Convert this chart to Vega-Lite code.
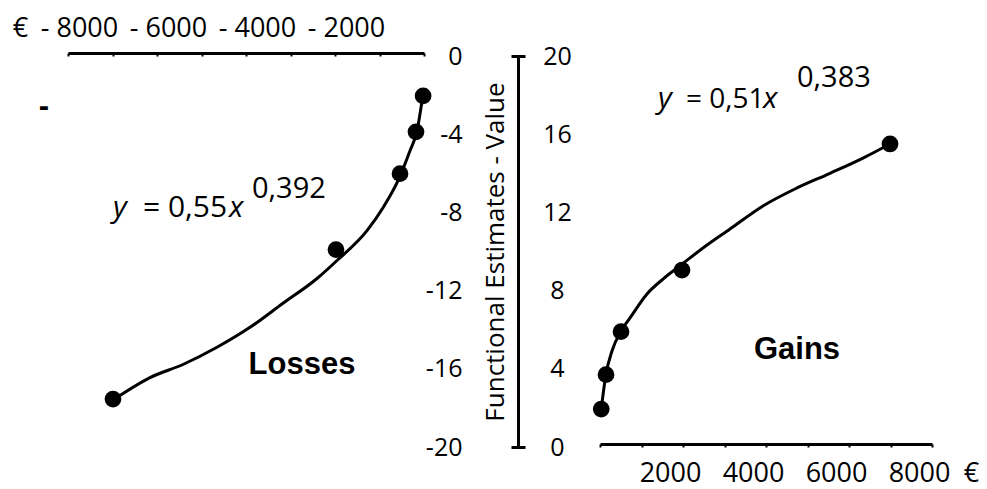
{
  "$schema": "https://vega.github.io/schema/vega-lite/v6.json",
  "background": "white",
  "padding": {"left": 12, "top": 14, "right": 5, "bottom": 5},
  "bounds": "flush",
  "spacing": 176,
  "config": {
    "view": {"stroke": null},
    "axis": {"grid": false, "labelFont": "Open Sans", "titleFont": "Open Sans", "labelColor": "#000", "titleColor": "#000", "domainColor": "#000", "tickColor": "#000", "labelFontWeight": "normal", "titleFontWeight": "normal", "domainWidth": 3, "labelOverlap": false, "labelFlush": false, "labelBound": false},
    "text": {"font": "Open Sans", "color": "#000"}
  },
  "datasets": {
    "lossCurve": [
      {"x": -6989, "y": -17.6}, {"x": -6157, "y": -16.45}, {"x": -5416, "y": -15.78}, {"x": -4652, "y": -14.9},
      {"x": -3910, "y": -13.88}, {"x": -3169, "y": -12.65}, {"x": -2404, "y": -11.38}, {"x": -1955, "y": -10.46},
      {"x": -1281, "y": -8.93}, {"x": -921, "y": -7.76}, {"x": -584, "y": -6.38}, {"x": -315, "y": -4.85},
      {"x": -157, "y": -3.83}, {"x": -45, "y": -2.3}, {"x": -22, "y": -1.94}
    ],
    "lossPts": [
      {"x": -6989, "y": -17.55}, {"x": -1978, "y": -9.9}, {"x": -539, "y": -6.02}, {"x": -180, "y": -3.88}, {"x": -20, "y": -2.04}
    ],
    "gainCurve": [
      {"x": 30, "y": 1.94}, {"x": 145, "y": 3.73}, {"x": 289, "y": 4.91}, {"x": 506, "y": 5.93}, {"x": 723, "y": 6.6},
      {"x": 1133, "y": 7.83}, {"x": 1518, "y": 8.59}, {"x": 1976, "y": 9.35}, {"x": 2482, "y": 10.18}, {"x": 3133, "y": 11.15},
      {"x": 3928, "y": 12.33}, {"x": 4747, "y": 13.25}, {"x": 5542, "y": 14.0}, {"x": 6337, "y": 14.78}, {"x": 6988, "y": 15.5}
    ],
    "gainPts": [
      {"x": 30, "y": 1.94}, {"x": 145, "y": 3.7}, {"x": 506, "y": 5.9}, {"x": 1976, "y": 9.05}, {"x": 6988, "y": 15.5}
    ],
    "lossItalic": [{"x": -6989, "y": -8.21, "t": "y"}, {"x": -4382, "y": -8.21, "t": "x"}],
    "lossMain": [{"x": -6315, "y": -8.21, "t": "= 0,55"}],
    "lossSup": [{"x": -3865, "y": -7.24, "t": "0,392"}],
    "lossLabel": [{"x": -2742, "y": -15.82, "t": "Losses"}, {"x": -8539, "y": -2.6, "t": "-"}],
    "gainItalic": [{"x": 1398, "y": 17.34, "t": "y"}, {"x": 3928, "y": 17.34, "t": "x"}],
    "gainMain": [{"x": 2072, "y": 17.34, "t": "= 0,51"}],
    "gainSup": [{"x": 4747, "y": 18.41, "t": "0,383"}],
    "gainLabel": [{"x": 4747, "y": 4.94, "t": "Gains"}]
  },
  "hconcat": [
    {
      "width": 356,
      "height": 391,
      "layer": [
        {
          "data": {"name": "lossCurve"},
          "mark": {"type": "line", "color": "#000", "strokeWidth": 3, "interpolate": "monotone"},
          "encoding": {
            "x": {"field": "x", "type": "quantitative", "scale": {"domain": [-8000, 0], "nice": false, "zero": false},
              "axis": {"orient": "top", "values": [-8000, -7000, -6000, -5000, -4000, -3000, -2000, -1000, 0],
                "labelExpr": "datum.value % 2000 == 0 && datum.value != 0 ? '- ' + abs(datum.value) : ''",
                "tickSize": -3, "tickWidth": 2, "labelPadding": 20, "labelBaseline": "alphabetic", "labelOffset": 11, "labelFontSize": 27,
                "offset": 3, "title": "€", "titleX": -48, "titleY": -17, "titleBaseline": "alphabetic", "titleAlign": "center", "titleAngle": 0, "titleFontSize": 27}},
            "y": {"field": "y", "type": "quantitative", "scale": {"domain": [-20, 0], "nice": false},
              "axis": {"orient": "right", "values": [0, -4, -8, -12, -16, -20],
                "labelExpr": "datum.value == 0 ? '0' : '-' + abs(datum.value)",
                "ticks": false, "domain": false, "labelAlign": "right", "labelPadding": 38, "labelBaseline": "middle", "labelFontSize": 25, "title": null}}
          }
        },
        {
          "data": {"name": "lossPts"},
          "mark": {"type": "point", "filled": true, "color": "#000", "size": 280, "opacity": 1},
          "encoding": {
            "x": {"field": "x", "type": "quantitative"},
            "y": {"field": "y", "type": "quantitative"}
          }
        },
        {
          "data": {"name": "lossItalic"},
          "mark": {"type": "text", "align": "left", "baseline": "alphabetic", "fontSize": 30, "fontStyle": "italic"},
          "encoding": {
            "x": {"field": "x", "type": "quantitative"},
            "y": {"field": "y", "type": "quantitative"},
            "text": {"field": "t"}
          }
        },
        {
          "data": {"name": "lossMain"},
          "mark": {"type": "text", "align": "left", "baseline": "alphabetic", "fontSize": 30},
          "encoding": {
            "x": {"field": "x", "type": "quantitative"},
            "y": {"field": "y", "type": "quantitative"},
            "text": {"field": "t"}
          }
        },
        {
          "data": {"name": "lossSup"},
          "mark": {"type": "text", "align": "left", "baseline": "alphabetic", "fontSize": 29},
          "encoding": {
            "x": {"field": "x", "type": "quantitative"},
            "y": {"field": "y", "type": "quantitative"},
            "text": {"field": "t"}
          }
        },
        {
          "data": {"name": "lossLabel"},
          "mark": {"type": "text", "align": "center", "baseline": "middle", "fontSize": 31, "font": "Liberation Sans", "fontWeight": "bold"},
          "encoding": {
            "x": {"field": "x", "type": "quantitative"},
            "y": {"field": "y", "type": "quantitative"},
            "text": {"field": "t"}
          }
        }
      ]
    },
    {
      "width": 332,
      "height": 391,
      "resolve": {"axis": {"y": "independent"}},
      "layer": [
        {
          "data": {"name": "gainCurve"},
          "mark": {"type": "line", "color": "#000", "strokeWidth": 3, "interpolate": "monotone"},
          "encoding": {
            "x": {"field": "x", "type": "quantitative", "scale": {"domain": [0, 8000], "nice": false, "zero": false},
              "axis": {"orient": "bottom", "values": [0, 1000, 2000, 3000, 4000, 5000, 6000, 7000, 8000],
                "labelExpr": "datum.value % 2000 == 0 && datum.value != 0 ? '' + datum.value : ''",
                "tickSize": 3, "tickWidth": 2, "labelPadding": 34, "labelBaseline": "alphabetic", "labelOffset": -13, "labelFontSize": 27,
                "offset": -3, "title": "€", "titleX": 371, "titleY": 37, "titleBaseline": "alphabetic", "titleAlign": "center", "titleAngle": 0, "titleFontSize": 27}},
            "y": {"field": "y", "type": "quantitative", "scale": {"domain": [0, 20], "nice": false},
              "axis": {"orient": "left", "offset": 82, "values": [0, 4, 8, 12, 16, 20],
                "ticks": false, "labelAlign": "center", "labelPadding": -39, "labelBaseline": "middle", "labelFontSize": 25,
                "title": "Functional Estimates - Value", "titleFontSize": 26, "titleX": -23, "titleY": 195.5, "titleAngle": -90, "titleAlign": "center", "titleBaseline": "middle"}}
          }
        },
        {
          "data": {"name": "gainPts"},
          "mark": {"type": "point", "filled": true, "color": "#000", "size": 280, "opacity": 1},
          "encoding": {
            "x": {"field": "x", "type": "quantitative"},
            "y": {"field": "y", "type": "quantitative",
              "axis": {"orient": "left", "offset": 89, "values": [0, 20], "tickSize": -14, "tickWidth": 3, "labels": false, "domain": false, "title": null}}
          }
        },
        {
          "data": {"name": "gainItalic"},
          "mark": {"type": "text", "align": "left", "baseline": "alphabetic", "fontSize": 30, "fontStyle": "italic"},
          "encoding": {
            "x": {"field": "x", "type": "quantitative"},
            "y": {"field": "y", "type": "quantitative", "axis": null},
            "text": {"field": "t"}
          }
        },
        {
          "data": {"name": "gainMain"},
          "mark": {"type": "text", "align": "left", "baseline": "alphabetic", "fontSize": 28},
          "encoding": {
            "x": {"field": "x", "type": "quantitative"},
            "y": {"field": "y", "type": "quantitative", "axis": null},
            "text": {"field": "t"}
          }
        },
        {
          "data": {"name": "gainSup"},
          "mark": {"type": "text", "align": "left", "baseline": "alphabetic", "fontSize": 29},
          "encoding": {
            "x": {"field": "x", "type": "quantitative"},
            "y": {"field": "y", "type": "quantitative", "axis": null},
            "text": {"field": "t"}
          }
        },
        {
          "data": {"name": "gainLabel"},
          "mark": {"type": "text", "align": "center", "baseline": "middle", "fontSize": 31, "font": "Liberation Sans", "fontWeight": "bold"},
          "encoding": {
            "x": {"field": "x", "type": "quantitative"},
            "y": {"field": "y", "type": "quantitative", "axis": null},
            "text": {"field": "t"}
          }
        }
      ]
    }
  ]
}
